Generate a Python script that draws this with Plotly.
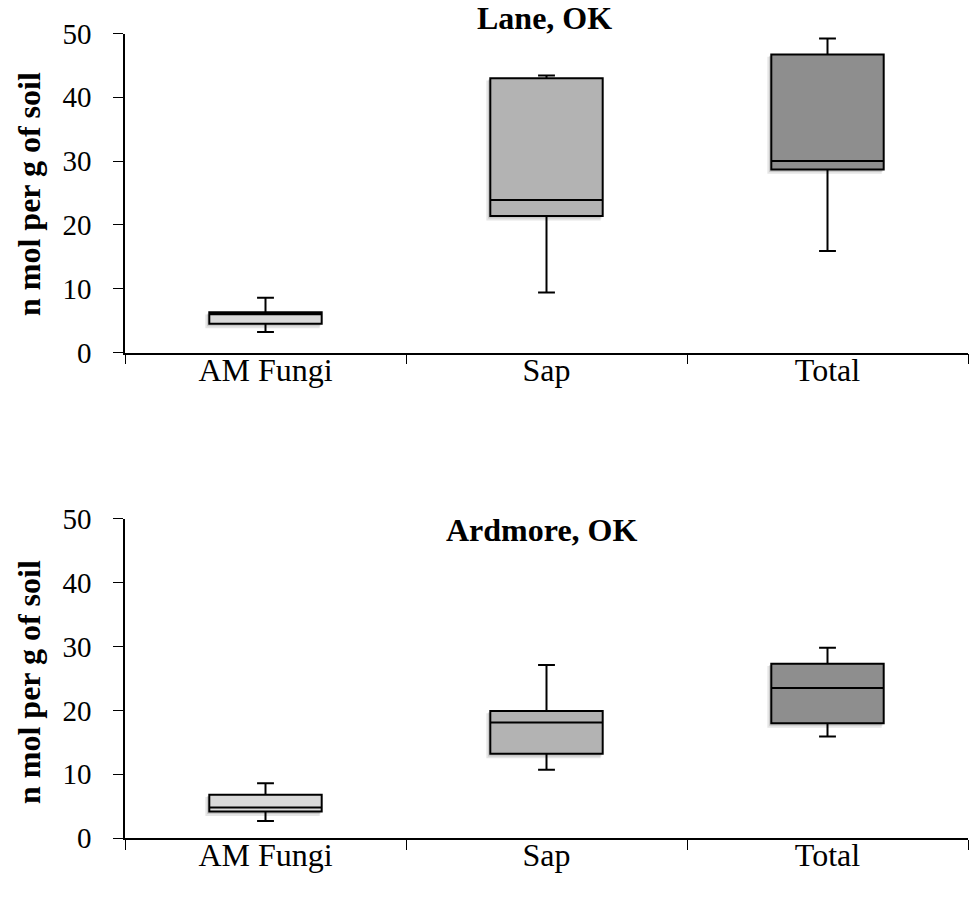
import plotly.graph_objects as go

categories = ["AM Fungi", "Sap", "Total"]
fills = ["#d9d9d9", "#b3b3b3", "#8e8e8e"]

# Lane, OK
lane_low = [3.2, 9.4, 15.9]
lane_q1 = [4.5, 21.4, 28.7]
lane_med = [6.0, 23.9, 30.0]
lane_q3 = [6.3, 43.0, 46.7]
lane_high = [8.6, 43.4, 49.2]

# Ardmore, OK
ard_low = [2.7, 10.7, 15.9]
ard_q1 = [4.2, 13.2, 18.0]
ard_med = [4.8, 18.1, 23.5]
ard_q3 = [6.8, 19.9, 27.3]
ard_high = [8.6, 27.1, 29.8]

titles = ["Lane, OK", "Ardmore, OK"]
y_ticks = [0, 10, 20, 30, 40, 50]

BOX_W = 0.4

fig = go.Figure()

panels = [
    ("x", "y", lane_low, lane_q1, lane_med, lane_q3, lane_high),
    ("x2", "y2", ard_low, ard_q1, ard_med, ard_q3, ard_high),
]
for xa, ya, lo, q1, med, q3, hi in panels:
    for i, c in enumerate(categories):
        # soft drop shadow under each box
        for off, alpha in [(0.7, 0.10), (0.4, 0.12)]:
            fig.add_shape(type="rect", xref=xa, yref=ya, layer="below",
                          x0=i - BOX_W / 2 - off * 0.02, x1=i + BOX_W / 2 - off * 0.01,
                          y0=q1[i] - off * 1.0, y1=q3[i] - off * 0.5,
                          line=dict(width=0), fillcolor="rgba(0,0,0,%.2f)" % alpha)
        fig.add_trace(go.Box(
            x=[c], q1=[q1[i]], median=[med[i]], q3=[q3[i]],
            lowerfence=[lo[i]], upperfence=[hi[i]],
            fillcolor=fills[i], line=dict(color="black", width=2),
            width=BOX_W, whiskerwidth=0.15, boxpoints=False,
            showlegend=False, xaxis=xa, yaxis=ya, hoverinfo="skip",
        ))

font_serif = "Liberation Serif, Times New Roman, serif"
xdom = [125 / 969, 968 / 969]
axis_common_x = dict(
    domain=xdom, range=[-0.5, 2.5], type="category",
    categoryorder="array", categoryarray=categories,
    showline=True, linecolor="black", linewidth=1.5,
    ticks="outside", tickson="boundaries", ticklen=10, tickcolor="black",
    tickfont=dict(family=font_serif, size=32, color="black"),
    ticklabelstandoff=-12,
    showgrid=False, zeroline=False, automargin=False,
)
axis_common_y = dict(
    range=[0, 50], tickvals=y_ticks, showline=True, linecolor="black",
    linewidth=1.5, ticks="outside", ticklen=10, tickcolor="black",
    tickfont=dict(family=font_serif, size=29, color="black"),
    ticklabelstandoff=16,
    showgrid=False, zeroline=False, automargin=False,
)

fig.update_layout(
    width=969, height=898,
    margin=dict(l=0, r=0, t=0, b=0),
    plot_bgcolor="white", paper_bgcolor="white",
    boxmode="overlay",
    xaxis=dict(anchor="y", **axis_common_x),
    xaxis2=dict(anchor="y2", **axis_common_x),
    yaxis=dict(anchor="x", domain=[1 - 352.5 / 898, 1 - 33.5 / 898], **axis_common_y),
    yaxis2=dict(anchor="x2", domain=[1 - 838.3 / 898, 1 - 518.5 / 898], **axis_common_y),
)

ann = []
for k, (t, ytop, xc) in enumerate(zip(titles, [18, 530], [544, 541])):
    ann.append(dict(text="<b>%s</b>" % t, x=xc / 969, y=1 - ytop / 898,
                    xref="paper", yref="paper", showarrow=False,
                    xanchor="center", yanchor="middle",
                    font=dict(family=font_serif, size=32, color="black")))
for ymid in [194, 682]:
    ann.append(dict(text="<b>n mol per g of soil</b>", x=29 / 969, y=1 - ymid / 898,
                    xref="paper", yref="paper", showarrow=False, textangle=-90,
                    xanchor="center", yanchor="middle",
                    font=dict(family=font_serif, size=32, color="black")))
fig.update_layout(annotations=ann)

fig.write_html("out.html")
